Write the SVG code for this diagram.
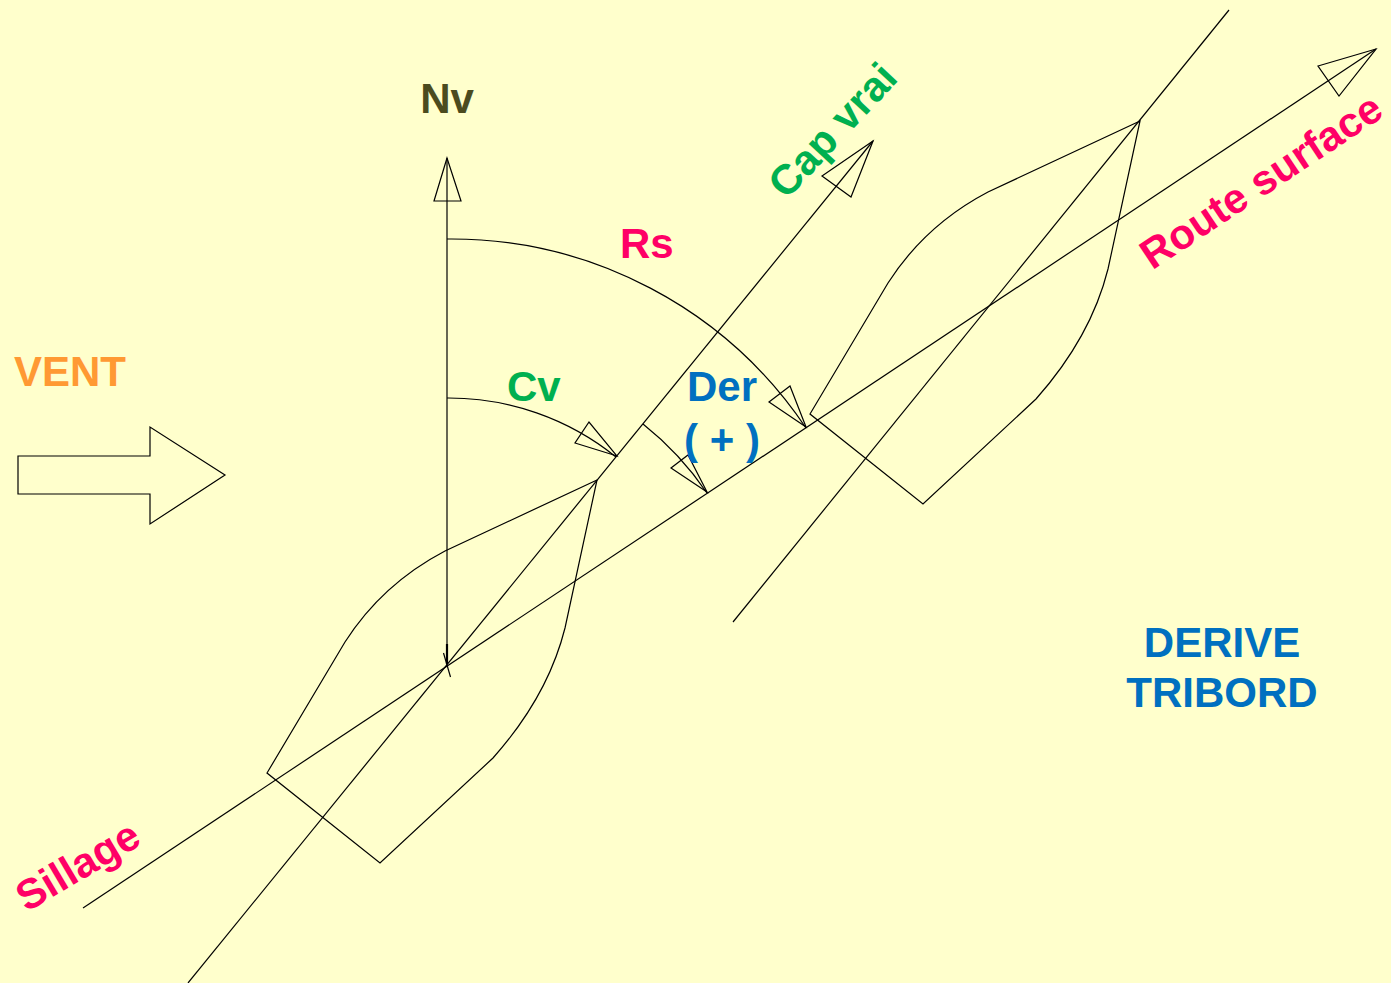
<svg xmlns="http://www.w3.org/2000/svg" xmlns:xlink="http://www.w3.org/1999/xlink" width="1391" height="983" viewBox="0 0 1391 983">
  <style>
    .ln { fill: none; stroke: #000; stroke-width: 1.2; stroke-linejoin: miter; }
    .head { fill: none; stroke: #000; stroke-width: 1.2; stroke-linejoin: miter; }
    .lbl { font-family: "Liberation Sans", Arial, Helvetica, sans-serif; font-weight: bold; font-size: 42px; }
    .pink { fill: #FF0066; }
    .green { fill: #00B050; }
    .blue { fill: #0070C0; }
    .orange { fill: #FF9933; }
    .olive { fill: #4B4B1E; }
  </style>
  <defs>
    <!-- hull outline drawn around the first position (centre 447,664) -->
    <path id="hull" d="M597,480 L445,551 C405,572 370,603 345,642 L267,773 L380,863 L493,758 C525,722 552,680 565,628 L597,480 Z"/>
  </defs>

  <rect x="0" y="0" width="1391" height="983" fill="#FFFFCC"/>

  <!-- wind arrow -->
  <g id="vent">
    <polygon class="ln" points="18,456 150,456 150,427 225,475 150,524 150,494 18,494"/>
    <text class="lbl orange" x="14" y="386">VENT</text>
  </g>

  <!-- boat at first position -->
  <g id="boat1">
    <use xlink:href="#hull" class="ln"/>
  </g>

  <!-- boat at second position -->
  <g id="boat2">
    <use xlink:href="#hull" class="ln" transform="translate(543,-359)"/>
  </g>

  <g id="connectors">
    <!-- true north -->
    <line class="ln" x1="447" y1="158" x2="447" y2="664"/>
    <line x1="447" y1="644" x2="447" y2="664" stroke="#000" stroke-width="2.2"/>
    <line class="ln" x1="443.5" y1="653" x2="450.5" y2="677"/>
    <polygon class="head" points="447,158 434,201 461,201"/>

    <!-- wake / ground track -->
    <line class="ln" x1="83" y1="908" x2="1376" y2="49"/>
    <polygon class="head" points="1376,49 1318,66 1339,96"/>

    <!-- heading of first position -->
    <line class="ln" x1="188" y1="983" x2="873" y2="141"/>
    <polygon class="head" points="873,141 822,176 851,197"/>

    <!-- heading of second position -->
    <line class="ln" x1="733" y1="622" x2="1229" y2="10"/>

    <!-- angle arcs -->
    <path class="ln" d="M447,239 A427,427 0 0 1 806,428"/>
    <polygon class="head" points="806,427 769,402 790,386"/>

    <path class="ln" d="M447,398 A267,267 0 0 1 616,457"/>
    <polygon class="head" points="617,456 575,443 589,422"/>

    <path class="ln" d="M643,424 A311,311 0 0 1 707,493"/>
    <polygon class="head" points="707,492 671,468 688,455"/>
  </g>

  <g id="labels">
    <text class="lbl olive" x="447" y="113" text-anchor="middle">Nv</text>
    <text class="lbl pink" x="620" y="258">Rs</text>
    <text class="lbl green" x="507" y="401">Cv</text>
    <text class="lbl blue" x="722" y="401" text-anchor="middle">Der</text>
    <text class="lbl blue" x="722" y="454" text-anchor="middle">( + )</text>
    <text class="lbl blue" x="1222" y="657" text-anchor="middle">DERIVE</text>
    <text class="lbl blue" x="1222" y="707" text-anchor="middle">TRIBORD</text>
    <text class="lbl green" text-anchor="middle" transform="translate(843,140) rotate(-47)">Cap vrai</text>
    <text class="lbl pink" text-anchor="middle" transform="translate(1269,193) rotate(-33.6)">Route surface</text>
    <text class="lbl pink" text-anchor="middle" transform="translate(85,878) rotate(-30.6)">Sillage</text>
  </g>
</svg>
